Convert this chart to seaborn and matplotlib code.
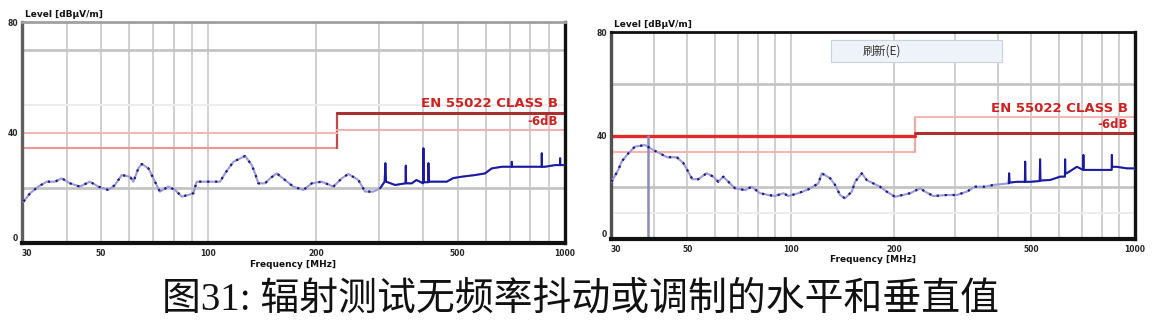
import numpy as np
import pandas as pd
import matplotlib
matplotlib.use("Agg")
import matplotlib.pyplot as plt
import matplotlib.patches as mpatches
import seaborn as sns

# ---------------- data ----------------
left_freq = [30.3, 31.6, 33.3, 35.2, 37.1, 38.8, 40.9, 43.6, 46.5, 49.1, 52.4, 54.7,
             57.1, 60.3, 61.6, 63.6, 65.0, 67.9, 70.8, 73.1, 77.2, 80.6, 84.2, 87.8,
             90.7, 92.7, 97.9, 107.8, 111.3, 117.5, 126.7, 132.3, 135.1, 138.0, 144.1,
             148.9, 155.4, 164.0, 173.0, 184.6, 194.9, 207.9, 224.0, 236.6, 246.9,
             263.3, 275.0, 290.0, 303.0, 312.0, 313.5, 315.0, 333.9, 357.0, 357.7,
             358.5, 371.8, 383.0, 400.0, 400.9, 402.0, 413.5, 414.0, 415.0, 432.4,
             466.0, 486.0, 513.6, 559.6, 596.8, 623.0, 664.9, 708.0, 709.0, 711.0,
             740.0, 789.0, 860.0, 860.8, 862.0, 879.0, 938.0, 968.0, 969.0, 970.0,
             1000.0]
left_level = [15.0, 18.0, 20.4, 22.2, 22.2, 23.4, 21.6, 20.4, 22.2, 20.4, 19.2, 21.0,
              24.6, 24.0, 22.2, 27.0, 28.6, 27.0, 22.2, 18.6, 20.4, 19.2, 16.8, 17.4,
              18.0, 22.2, 22.2, 22.2, 25.2, 29.4, 31.5, 28.2, 25.2, 21.6, 21.6,
              23.4, 25.2, 22.8, 20.4, 19.2, 21.6, 22.2, 20.4, 23.4, 25.0,
              22.8, 18.6, 18.6, 19.8, 22.2, 28.9, 22.2, 21.0, 21.6, 28.0,
              21.6, 21.6, 22.8, 21.6, 34.3, 22.0, 22.0, 28.9, 22.2, 22.2,
              22.2, 23.5, 24.0, 24.6, 25.2, 27.0, 27.6, 27.6, 29.4, 27.6,
              27.6, 27.6, 27.6, 32.5, 27.6, 27.6, 28.2, 28.2, 30.7, 28.2,
              28.2]

right_freq = [30.1, 31.5, 32.2, 33.7, 35.2, 36.0, 37.7, 39.8, 41.6, 43.6, 46.6, 48.7,
              50.3, 51.7, 53.8, 56.9, 59.5, 61.5, 63.6, 66.5, 68.8, 73.6, 76.9, 81.3,
              86.0, 89.9, 95.1, 98.3, 105.1, 112.4, 120.2, 122.9, 130.0, 134.4, 138.9,
              143.6, 150.2, 153.6, 160.7, 166.0, 169.9, 181.6, 189.9, 200.8, 222.0,
              237.4, 245.5, 259.5, 283.8, 303.4, 324.4, 343.0, 366.8, 387.8, 429.5,
              430.7, 432.0, 453.6, 478.5, 479.5, 480.5, 495.5, 528.5, 529.9, 531.0,
              566.7, 606.0, 625.5, 626.5, 627.5, 633.5, 677.6, 707.0, 708.0, 709.0,
              757.0, 828.0, 855.5, 856.6, 858.0, 885.0, 946.7, 1000.0]
right_level = [22.1, 26.7, 29.9, 33.1, 35.7, 35.9, 36.3, 34.4, 33.1, 31.6, 31.6, 29.3,
               26.0, 23.1, 23.1, 25.4, 24.1, 22.1, 24.1, 21.5, 19.6, 18.9, 20.2, 17.7,
               17.0, 16.6, 17.7, 16.6, 17.7, 19.2, 21.5, 25.4, 23.5, 20.9, 17.0,
               15.7, 18.3, 22.1, 25.4, 22.8, 22.1, 20.2, 18.3, 16.3, 17.7,
               19.6, 18.3, 16.6, 17.0, 17.0, 18.3, 20.2, 20.2, 20.9, 21.5,
               25.4, 21.8, 22.1, 22.1, 29.9, 22.1, 22.1, 22.4, 30.8, 22.6,
               22.8, 24.1, 24.1, 30.8, 25.4, 25.4, 27.9, 26.7, 32.5, 26.7,
               26.7, 26.7, 26.7, 32.5, 27.9, 27.9, 27.3, 27.3]

limit_freq = [30, 230, 1000]
left_classb = [34.4, 47.1]     # below / above 230 MHz
left_other = [39.8, 40.9]
right_classb = [33.6, 47.0]
right_other = [40.0, 41.0]
marker_freq = 38.4
marker_level = 40.0

xtick_vals = [30, 50, 100, 200, 500, 1000]
xtick_text = ["30", "50", "100", "200", "500", "1000"]
ytick_vals = [0, 40, 80]
ytick_text = ["0", "40", "80"]
caption = "图31: 辐射测试无频率抖动或调制的水平和垂直值"
limit_label = "EN 55022 CLASS B"
margin_label = "-6dB"

# ---------------- style ----------------
sns.set_style("white")
plt.rcParams["font.family"] = ["DejaVu Sans", "Noto Sans CJK SC"]

W, H = 1152, 325
fig = plt.figure(figsize=(W / 100, H / 100), dpi=100)


def px_axes(x0, y0, x1, y1):
    return fig.add_axes([x0 / W, 1 - y1 / H, (x1 - x0) / W, (y1 - y0) / H])


axL = px_axes(22, 22, 565, 243)
axR = px_axes(611, 32, 1135, 239)

grid_freqs = list(range(40, 100, 10)) + list(range(100, 1000, 100))


def draw_panel(ax, freq, level, dotted_until, hgrid_strong, hgrid_faint,
               classb, other, classb_cols, other_cols, spine_cols):
    ax.set_xscale("log")
    ax.set_xlim(30, 1000)
    ax.set_ylim(0, 80)
    for g in grid_freqs:
        ax.axvline(g, color="#cfcfcf", lw=1.4, zorder=0)
    for g in hgrid_strong:
        ax.axhline(g, color="#c4c4c4", lw=2.0, zorder=0)
    for g in hgrid_faint:
        ax.axhline(g, color="#ececec", lw=1.4, zorder=0)

    # limit lines
    c_lo, c_v, c_hi, lw_lo, lw_hi = classb_cols
    ax.plot(limit_freq[:2], [classb[0]] * 2, color=c_lo, lw=lw_lo, zorder=2)
    ax.plot([limit_freq[1]] * 2, classb, color=c_v, lw=1.6, zorder=2)
    ax.plot(limit_freq[1:], [classb[1]] * 2, color=c_hi, lw=lw_hi, zorder=2)
    o_lo, o_hi, olw_lo, olw_hi = other_cols
    ax.plot(limit_freq[:2], [other[0]] * 2, color=o_lo, lw=olw_lo, zorder=2)
    ax.plot(limit_freq[1:], [other[1]] * 2, color=o_hi, lw=olw_hi, zorder=2)

    df = pd.DataFrame({"freq": freq, "level": level})
    sns.lineplot(data=df, x="freq", y="level", estimator=None, sort=False,
                 ax=ax, color="#9a9ad8", lw=1.5, zorder=3)
    lo = df[df["freq"] <= dotted_until]
    hi = df[df["freq"] >= dotted_until * 0.97]
    sns.lineplot(data=lo, x="freq", y="level", estimator=None, sort=False,
                 ax=ax, color="#1c1c7a", lw=1.6, linestyle=(0, (1.0, 2.6)), zorder=4)
    sns.lineplot(data=hi, x="freq", y="level", estimator=None, sort=False,
                 ax=ax, color="#1a1aa0", lw=1.4, zorder=4)

    ax.set_xticks(xtick_vals)
    ax.set_xticklabels(xtick_text)
    ax.xaxis.set_minor_locator(matplotlib.ticker.NullLocator())
    ax.set_yticks(ytick_vals)
    ax.set_yticklabels(ytick_text)
    ax.tick_params(axis="x", length=0, labelsize=5.5, pad=4)
    ax.tick_params(axis="y", length=0, labelsize=5.5, pad=3)
    for lab in ax.get_xticklabels() + ax.get_yticklabels():
        lab.set_fontweight("bold")
    ax.get_xticklabels()[0].set_horizontalalignment("left")
    ax.get_yticklabels()[0].set_verticalalignment("bottom")
    ax.set_xlabel("")
    ax.set_ylabel("")

    top_c, left_c = spine_cols
    ax.spines["top"].set_color(top_c)
    ax.spines["top"].set_linewidth(2.0)
    ax.spines["left"].set_color(left_c)
    ax.spines["left"].set_linewidth(2.4)
    ax.spines["bottom"].set_color("#111111")
    ax.spines["bottom"].set_linewidth(3.0)
    ax.spines["right"].set_color("#111111")
    ax.spines["right"].set_linewidth(2.4)

    ax.text(955, classb[1] + 0.9, limit_label, color="#cc2222", fontsize=9.5,
            fontweight="bold", ha="right", va="bottom", zorder=5)
    ax.text(955, other[1] + 0.9, margin_label, color="#cc2222", fontsize=8.5,
            fontweight="bold", ha="right", va="bottom", zorder=5)
    ax.text(0.005, 1.015, "Level [dBµV/m]", transform=ax.transAxes, fontsize=6.5,
            fontweight="bold", ha="left", va="bottom", color="#111111")
    ax.text(0.5, -0.075, "Frequency [MHz]", transform=ax.transAxes, fontsize=6.5,
            fontweight="bold", ha="center", va="top", color="#111111")


draw_panel(axL, left_freq, left_level, 300, [20, 70], [50],
           left_classb, left_other,
           ("#e89898", "#c44a4a", "#a83030", 1.5, 2.2),
           ("#f4b6b6", "#f2b0b0", 1.5, 1.5),
           ("#a0a0a0", "#606060"))

draw_panel(axR, right_freq, right_level, 400, [20, 60], [10],
           right_classb, right_other,
           ("#f4b2b2", "#f0a8a8", "#f4b6b6", 1.5, 1.5),
           ("#e22a2a", "#b03030", 2.4, 2.2),
           ("#111111", "#505050"))

axR.plot([marker_freq, marker_freq], [0, marker_level], color="#8c8cba", lw=1.8, zorder=2)

# context-menu artefact over right panel
rect = mpatches.Rectangle((831 / W, 1 - 62 / H), (1002 - 831) / W, 22 / H,
                          transform=fig.transFigure, facecolor="#eef3fa",
                          edgecolor="#c7d1e0", lw=0.8, zorder=10)
fig.add_artist(rect)
fig.text(863 / W, 1 - 51 / H, "刷新(E)", fontsize=8.5, color="#333333",
         family=["Noto Sans CJK SC", "DejaVu Sans"], ha="left", va="center", zorder=11)

fig.text(581 / W, 1 - 300 / H, caption, fontsize=28, color="#111111",
         family=["Liberation Serif", "Noto Sans CJK SC"], ha="center", va="center")

fig.savefig("out.png", dpi=100)
